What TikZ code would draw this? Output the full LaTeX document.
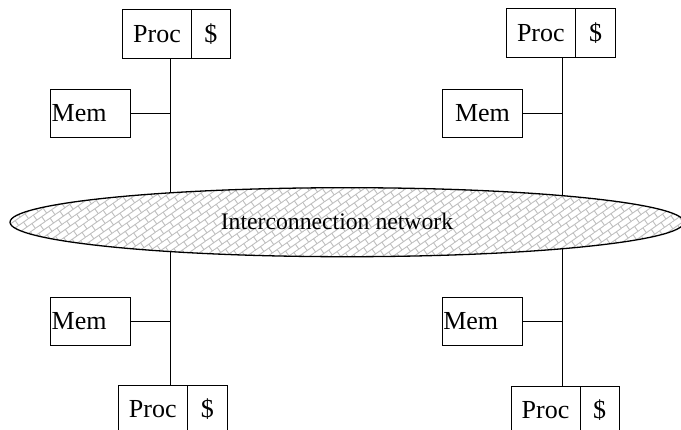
\documentclass[tikz,border=0pt]{standalone}
\usepackage{fontspec}
\setmainfont{Liberation Serif}
\usetikzlibrary{shapes.geometric,patterns.meta,backgrounds}
\pgfdeclarepattern{
  name=rotbricks,
  type=uncolored,
  bottom left={\pgfpoint{-.5pt}{-.5pt}},
  top right={\pgfpoint{12.5pt}{12.5pt}},
  tile size={\pgfpoint{12pt}{12pt}},
  tile transformation={\pgftransformrotate{35}},
  code={
    \pgfsetlinewidth{0.9pt}
    \pgfpathmoveto{\pgfpoint{0pt}{0pt}}\pgfpathlineto{\pgfpoint{12pt}{0pt}}
    \pgfpathmoveto{\pgfpoint{0pt}{6pt}}\pgfpathlineto{\pgfpoint{12pt}{6pt}}
    \pgfpathmoveto{\pgfpoint{0pt}{0pt}}\pgfpathlineto{\pgfpoint{0pt}{6pt}}
    \pgfpathmoveto{\pgfpoint{6pt}{6pt}}\pgfpathlineto{\pgfpoint{6pt}{12pt}}
    \pgfusepath{stroke}
  }
}
\tikzset{
  cell/.style={draw, line width=1pt, minimum height=49pt, inner sep=0pt,
    font=\fontsize{26pt}{30pt}\selectfont},
  memboxl/.style={draw, line width=1pt, minimum height=48.3pt, text width=78pt,
    inner xsep=1pt, inner ysep=0pt, align=left, font=\fontsize{26pt}{30pt}\selectfont},
  memboxc/.style={memboxl, align=center},
  wire/.style={line width=1pt},
  net/.style={ellipse, draw, line width=1.3pt, inner sep=0pt,
    minimum width=674pt, minimum height=69pt,
    preaction={fill=white}, pattern=rotbricks, pattern color=black!25},
}
\begin{document}
\begin{tikzpicture}[x=1pt,y=-1pt]
\useasboundingbox (0,0) rectangle (681,429);
% network
\node[net] (net) at (347,222.2) {};
\node[font=\fontsize{23.7pt}{28pt}\selectfont, inner sep=0pt] (netlabel) at (337,221.7) {Interconnection network};
% bus coordinates
\coordinate (busTL) at (170.5,0);
\coordinate (busTR) at (562.5,0);
\coordinate (busBL) at (170.3,0);
\coordinate (busBR) at (562.3,0);
% top-left
\node[cell, minimum width=69.4pt] (procTL) at (157,33.8) {Proc};
\node[cell, minimum width=38.3pt] (cacheTL) at (210.85,33.8) {\$};
\node[memboxl] (memTL) at (90.7,113.5) {Mem};
% top-right
\node[cell, minimum width=69.7pt] (procTR) at (540.85,33.3) {Proc};
\node[cell, minimum width=40pt] (cacheTR) at (595.7,33.3) {\$};
\node[memboxc, text width=77.6pt] (memTR) at (482.5,113.3) {Mem};
% bottom-left
\node[cell, minimum width=69pt] (procBL) at (152.8,409.5) {Proc};
\node[cell, minimum width=40pt] (cacheBL) at (207.3,409.5) {\$};
\node[memboxl] (memBL) at (90.7,321.2) {Mem};
% bottom-right
\node[cell, minimum width=69pt] (procBR) at (545.5,410.5) {Proc};
\node[cell, minimum width=39.3pt] (cacheBR) at (599.65,410.5) {\$};
\node[memboxl] (memBR) at (482.3,321.2) {Mem};
\begin{scope}[on background layer]
\draw[wire] (procTL.south -| busTL) -- (net.center -| busTL);
\draw[wire] (procTR.south -| busTR) -- (net.center -| busTR);
\draw[wire] (procBL.north -| busBL) -- (net.center -| busBL);
\draw[wire] (procBR.north -| busBR) -- (net.center -| busBR);
\end{scope}
\draw[wire] (memTL.east) -- (memTL.east -| busTL);
\draw[wire] (memTR.east) -- (memTR.east -| busTR);
\draw[wire] (memBL.east) -- (memBL.east -| busBL);
\draw[wire] (memBR.east) -- (memBR.east -| busBR);
\end{tikzpicture}
\end{document}
